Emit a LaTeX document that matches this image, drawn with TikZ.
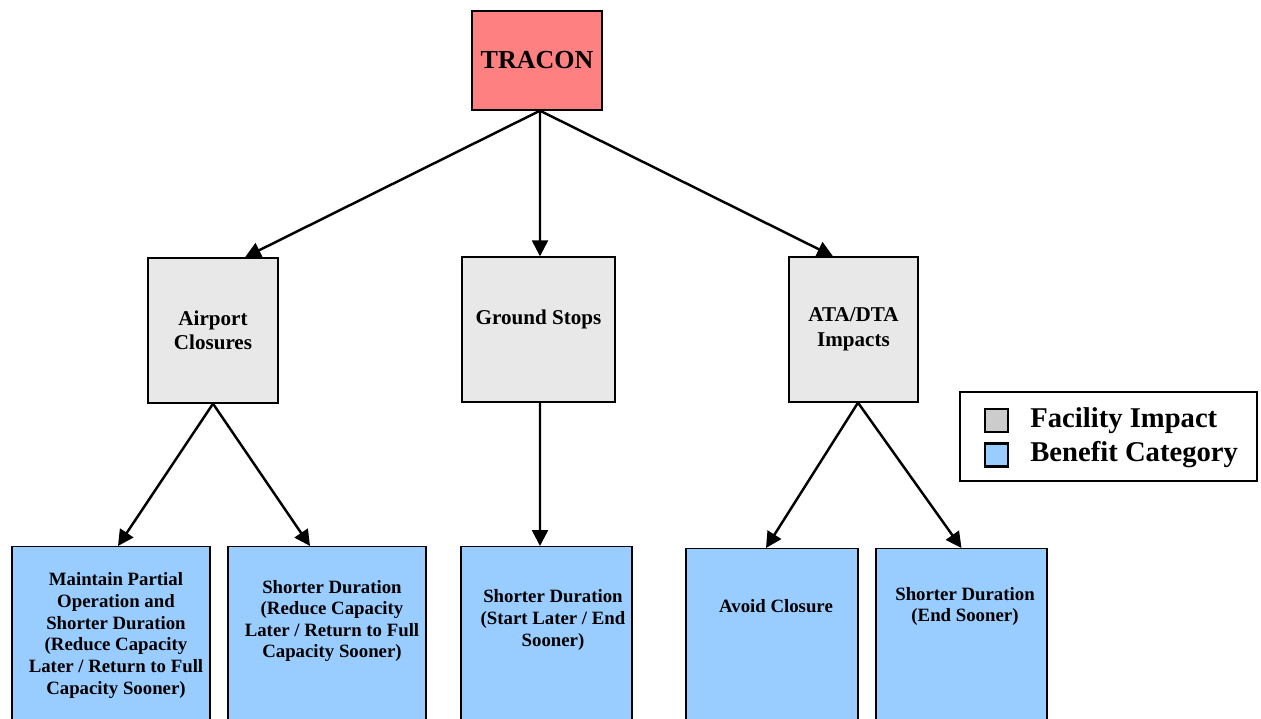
\documentclass[tikz,border=0pt]{standalone}
\usepackage{fontspec}
\setmainfont{Liberation Serif}
\usepackage{xcolor}
\usetikzlibrary{arrows.meta}

\definecolor{traconred}{RGB}{255,128,128}
\definecolor{facgray}{RGB}{232,232,232}
\definecolor{leggray}{RGB}{204,204,204}
\definecolor{benblue}{RGB}{153,204,255}

\tikzset{
  facility/.style={draw, line width=0.8pt, fill=facgray, minimum width=2.6cm, minimum height=2.9cm,
    align=center, font=\fontsize{12}{14}\selectfont\bfseries},
  benefit/.style={draw, line width=0.8pt, fill=benblue, anchor=north, minimum height=4.4cm},
  btext/.style={align=center, font=\fontsize{10.7}{12.3}\selectfont\bfseries},
  link/.style={line width=1.4pt, -{Triangle[length=9pt,width=9pt]}},
  legbox/.style={draw, line width=1.2pt, minimum size=0.46cm, inner sep=0pt}
}

\begin{document}
\begin{tikzpicture}[x=0.02cm,y=-0.02cm]
\useasboundingbox (0,0) rectangle (1261,719);

% Top node
\node[draw, line width=0.8pt, fill=traconred, minimum width=2.6cm, minimum height=1.98cm,
  font=\fontsize{14.8}{16}\selectfont\bfseries] (tracon) at (537,60.5) {TRACON};

% Facility impacts
\node[facility] (airport) at (213,330.5) {Airport\\Closures};
\node[facility, minimum width=3.06cm] (ground) at (538.5,329.5) {Ground Stops\\\mbox{}};
\node[facility, minimum width=2.58cm] (atadta) at (853.5,329.5) {ATA/DTA\\Impacts};

% Benefit categories
\node[benefit, minimum width=3.96cm] (partial) at (111,546) {};
\node[benefit, minimum width=3.96cm] (reduce) at (327,546) {};
\node[benefit, minimum width=3.42cm] (startlate) at (546.5,546) {};
\node[benefit, minimum width=3.44cm] (avoid) at (772,548) {};
\node[benefit, minimum width=3.42cm] (endsoon) at (961.5,548) {};

\node[btext] (partialtxt) at (116,635.5) {Maintain Partial\\Operation and\\Shorter Duration\\(Reduce Capacity\\Later / Return to Full\\Capacity Sooner)};
\node[btext] (reducetxt) at (332,621) {Shorter Duration\\(Reduce Capacity\\Later / Return to Full\\Capacity Sooner)};
\node[btext] (startlatetxt) at (553,620) {Shorter Duration\\(Start Later / End\\Sooner)};
\node[btext] (avoidtxt) at (776,606) {Avoid Closure};
\node[btext] (endsoontxt) at (965,606.5) {Shorter Duration\\(End Sooner)};

% Arrows
\draw[link] ([xshift=0.06cm]tracon.south) -- ([xshift=0.64cm]airport.north);
\draw[link] ([xshift=0.06cm]tracon.south) -- ([xshift=0.03cm]ground.north);
\draw[link] ([xshift=0.06cm]tracon.south) -- ([xshift=-0.41cm]atadta.north);
\draw[link] (airport.south) -- ([xshift=0.14cm]partial.north);
\draw[link] (airport.south) -- ([xshift=-0.34cm]reduce.north);
\draw[link] ([xshift=0.03cm]ground.south) -- ([xshift=-0.13cm]startlate.north);
\draw[link] ([xshift=0.09cm]atadta.south) -- ([xshift=-0.12cm]avoid.north);
\draw[link] ([xshift=0.09cm]atadta.south) -- (endsoon.north);

% Legend
\node[draw, line width=1.2pt, minimum width=5.94cm, minimum height=1.78cm] (legend) at (1108.5,436.5) {};
\node[legbox, fill=leggray] (legfac) at (996.5,420.5) {};
\node[legbox, fill=benblue] (legben) at (996.5,455) {};
\node[anchor=west, inner sep=0pt, font=\fontsize{16.3}{18}\selectfont\bfseries] (legfactxt) at (1030,421) {Facility Impact};
\node[anchor=west, inner sep=0pt, font=\fontsize{16.3}{18}\selectfont\bfseries] (legbentxt) at (1030,455) {Benefit Category};
\end{tikzpicture}
\end{document}
